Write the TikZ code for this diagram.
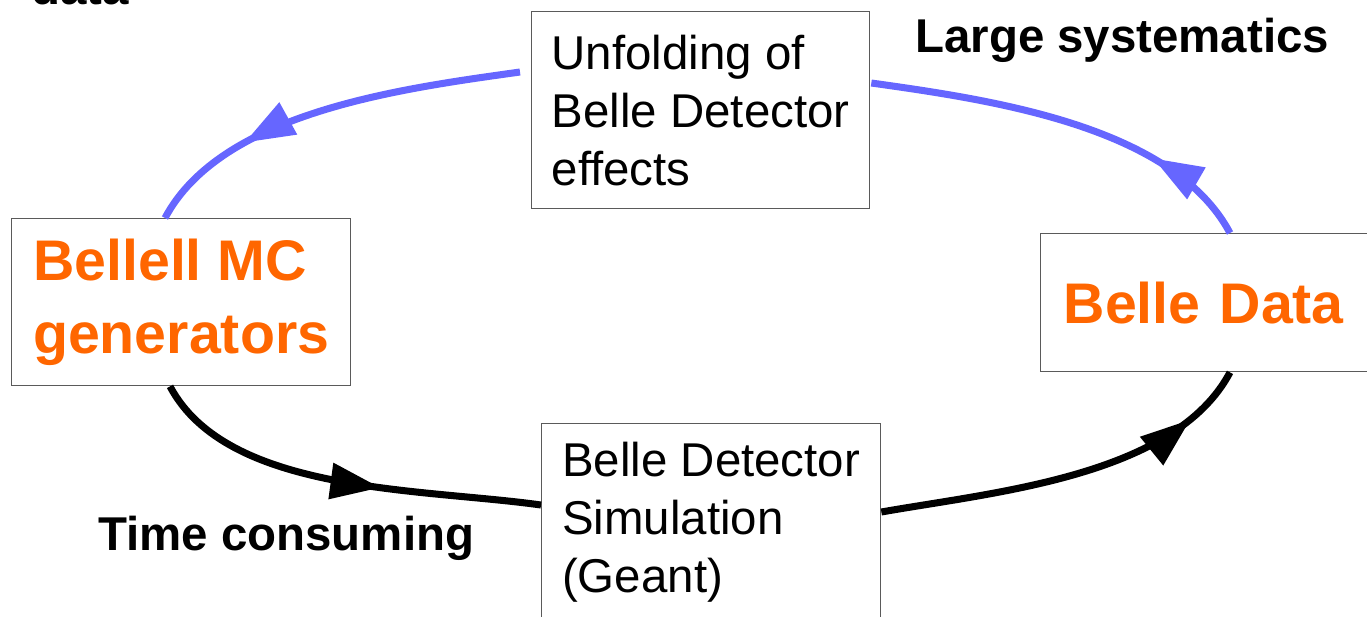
\documentclass[tikz,border=0pt]{standalone}
\usepackage{fontspec}
\setmainfont{Liberation Sans}
\usetikzlibrary{arrows.meta,decorations.markings}
\definecolor{Orange}{RGB}{255,102,0}
\definecolor{Blue}{RGB}{102,102,255}
\definecolor{Frame}{RGB}{90,90,90}

\begin{document}
\begin{tikzpicture}[x=0.02cm,y=-0.02cm,
    stagebox/.style={draw=Frame,line width=0.8pt,anchor=north west,align=left,
      inner sep=0pt,minimum width=6.76cm,minimum height=3.94cm,
      font=\fontsize{27}{33}\selectfont},
    orangebox/.style={draw=Frame,line width=0.8pt,anchor=north west,align=left,
      inner sep=0pt,minimum width=6.78cm,text=Orange,
      font=\fontsize{32.6}{41.5}\selectfont\bfseries},
    remark/.style={anchor=base west,font=\fontsize{27}{33}\selectfont\bfseries},
    flow/.style={line width=4pt,looseness=0.8,postaction={decorate},decoration={markings,
      mark=at position #1 with {\arrow{Triangle[length=1cm,width=0.7cm]}}}}]
  \useasboundingbox (0,0) rectangle (1367,616);\clip (0,0) rectangle (1367,616);
  \node[stagebox] (unfold) at (531,11) {Unfolding of\\Belle Detector\\effects};
  \node[stagebox,minimum width=6.78cm] (sim) at (541,423) {Belle Detector\\Simulation\\(Geant)};
  \node[orangebox,minimum height=3.34cm] (mc) at (11,218) {Bellell MC\\generators};
  \node[orangebox,minimum height=2.76cm,inner xsep=0.46cm,text width=5.86cm] (data) at (1040,233) {Belle Data};
  \node[remark] (syst) at (909,52) {Large systematics};
  \node[remark] (time) at (92,550) {Time consuming};
  \node[remark] (top) at (25,4) {data};
  % loop
  \draw[flow=0.72,Blue] ([shift={(-11,61)}]unfold.north west) to[out=188,in=62] ([shift={(154,0)}]mc.north west);
  \draw[flow=0.6] ([shift={(159,0)}]mc.south west) to[out=298,in=172] ([shift={(0,82)}]sim.north west);
  \draw[flow=0.84] ([shift={(0,89)}]sim.north east) to[out=10,in=242] ([shift={(190,0)}]data.south west);
  \draw[flow=0.27,Blue] ([shift={(190,0)}]data.north west) to[out=118,in=352] ([shift={(1,72)}]unfold.north east);
\end{tikzpicture}
\end{document}
